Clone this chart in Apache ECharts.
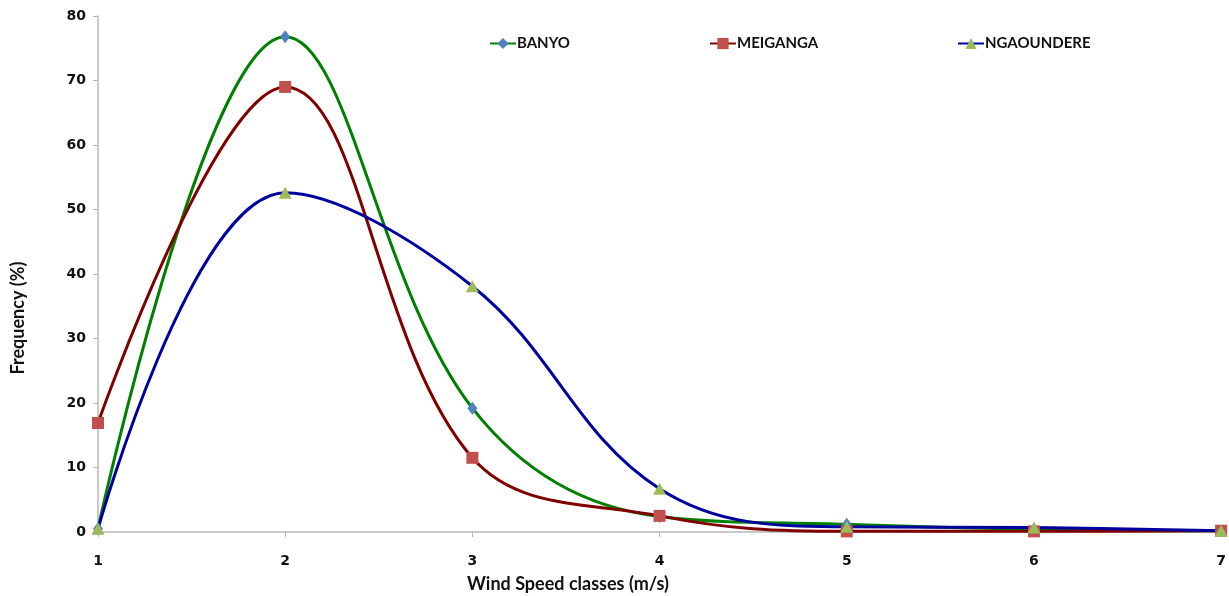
<!DOCTYPE html>
<html>
<head>
<meta charset="utf-8">
<script src="https://cdn.jsdelivr.net/npm/echarts@6/dist/echarts.min.js"></script>
<style>
html,body{margin:0;padding:0;background:#fff;}
#chart{width:1229px;height:596px;}
</style>
</head>
<body>
<div id="chart"></div>
<script>
var windClasses = [1, 2, 3, 4, 5, 6, 7];
var banyo = [0.5, 76.8, 19.2, 2.4, 1.2, 0.4, 0.2];
var meiganga = [16.9, 69.0, 11.5, 2.5, 0.1, 0.1, 0.2];
var ngaoundere = [0.5, 52.6, 38.1, 6.7, 0.8, 0.7, 0.2];
var yTicks = [0, 10, 20, 30, 40, 50, 60, 70, 80];

function pairs(vals) {
  return windClasses.map(function (x, i) { return [x, vals[i]]; });
}

var chart = echarts.init(document.getElementById('chart'));
var tickFont = { fontFamily: 'DejaVu Sans', fontWeight: 'bold', fontSize: 14, color: '#111' };
var calibri = 'Lato, "Open Sans", sans-serif';
var smoothVal = 0.38;

function legendAt(name, left) {
  return {
    data: [name], left: left, top: 31, itemWidth: 26, itemHeight: 14, itemGap: 2,
    textStyle: { fontFamily: calibri, fontWeight: 'bold', fontSize: 15, color: '#111', padding: [0, 0, 0, -4] }
  };
}

chart.setOption({
  animation: false,
  backgroundColor: '#fff',
  grid: { left: 98, right: 7, top: 16, bottom: 64, containLabel: false },
  title: {
    text: 'Wind Speed classes (m/s)', left: 462, top: 570,
    textStyle: { fontFamily: calibri, fontWeight: 'bold', fontSize: 18, color: '#111' }
  },
  graphic: [{
    type: 'text', x: 18, y: 318, rotation: Math.PI / 2,
    style: { text: 'Frequency (%)', fontFamily: calibri, fontWeight: 'bold', fontSize: 18, fill: '#111', align: 'center', verticalAlign: 'middle' }
  }],
  legend: [legendAt('BANYO', 484), legendAt('MEIGANGA', 704), legendAt('NGAOUNDERE', 952)],
  xAxis: {
    type: 'value', min: 1, max: 7, interval: 1,
    axisLine: { lineStyle: { color: '#b8b8b8', width: 1.5 } },
    axisTick: { show: true, length: 5, lineStyle: { color: '#b8b8b8' } },
    axisLabel: Object.assign({ margin: 22 }, tickFont),
    splitLine: { show: false }
  },
  yAxis: {
    type: 'value', min: yTicks[0], max: yTicks[yTicks.length - 1], interval: 10,
    axisLine: { show: true, lineStyle: { color: '#b8b8b8', width: 1.5 } },
    axisTick: { show: true, length: 5, lineStyle: { color: '#b8b8b8' } },
    axisLabel: Object.assign({ margin: 12 }, tickFont),
    splitLine: { show: false }
  },
  series: [
    {
      name: 'BANYO', type: 'line', data: pairs(banyo), smooth: smoothVal,
      symbol: 'diamond', symbolSize: [10, 13],
      lineStyle: { color: '#008000', width: 3 },
      itemStyle: { color: '#4f81bd' }
    },
    {
      name: 'MEIGANGA', type: 'line', data: pairs(meiganga), smooth: smoothVal,
      symbol: 'rect', symbolSize: 12,
      lineStyle: { color: '#800000', width: 3 },
      itemStyle: { color: '#c0504d' }
    },
    {
      name: 'NGAOUNDERE', type: 'line', data: pairs(ngaoundere), smooth: smoothVal,
      symbol: 'triangle', symbolSize: [13, 12],
      lineStyle: { color: '#0000a0', width: 3 },
      itemStyle: { color: '#9bbb59' }
    }
  ]
});
</script>
</body>
</html>
